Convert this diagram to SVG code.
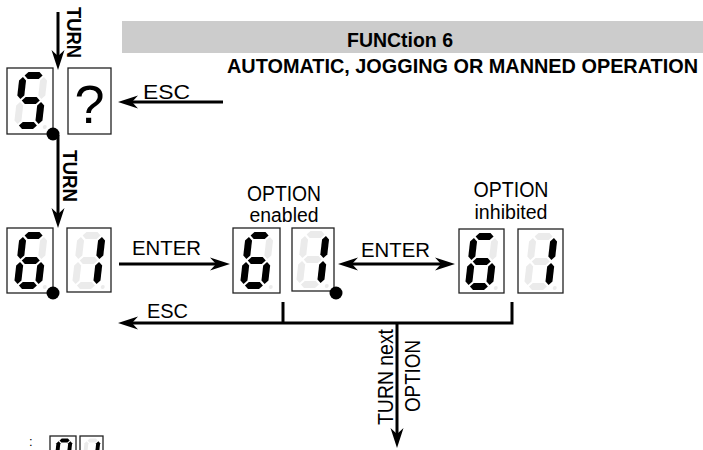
<svg xmlns="http://www.w3.org/2000/svg" xmlns:xlink="http://www.w3.org/1999/xlink" width="703" height="450" viewBox="0 0 703 450">
<style>
.box{fill:#fff;stroke:#222;stroke-width:1.3}
.on{fill:#000}
.off{fill:#ebebeb}
.t{font-family:"Liberation Sans",Arial,sans-serif;fill:#000}
.b{font-weight:bold}
.con{fill:none;stroke:#000;stroke-width:3}
.arr{marker-end:url(#ah)}
</style>
<defs>
<marker id="ah" viewBox="-11 -7 22 14" refX="0" refY="0" markerWidth="22" markerHeight="14" markerUnits="userSpaceOnUse" orient="auto-start-reverse">
<path d="M10,0 L-10,-6.5 L-4,0 L-10,6.5 Z" fill="#000"/>
</marker>
<polygon id="sa" points="5,3.5 8.5,0 19.5,0 23,3.5 19.5,7 8.5,7"/>
<polygon id="sg" points="5,28.5 8.5,25 19.5,25 23,28.5 19.5,32 8.5,32"/>
<polygon id="sd" points="5,53.5 8.5,50 19.5,50 23,53.5 19.5,57 8.5,57"/>
<polygon id="sf" points="3.5,5 7,8.5 7,23.5 3.5,27 0,23.5 0,8.5"/>
<polygon id="sb" points="24.5,5 28,8.5 28,23.5 24.5,27 21,23.5 21,8.5"/>
<polygon id="se" points="3.5,30 7,33.5 7,48.5 3.5,52 0,48.5 0,33.5"/>
<polygon id="sc" points="24.5,30 28,33.5 28,48.5 24.5,52 21,48.5 21,33.5"/>
<circle id="sp" cx="31" cy="55" r="2"/>
<g id="dig5">
<use xlink:href="#sa" class="on"/><use xlink:href="#sf" class="on"/><use xlink:href="#sg" class="on"/><use xlink:href="#sc" class="on"/><use xlink:href="#sd" class="on"/>
<use xlink:href="#sb" class="off"/><use xlink:href="#se" class="off"/><use xlink:href="#sp" class="off"/>
</g>
<g id="dig6">
<use xlink:href="#sa" class="on"/><use xlink:href="#sf" class="on"/><use xlink:href="#sg" class="on"/><use xlink:href="#se" class="on"/><use xlink:href="#sc" class="on"/><use xlink:href="#sd" class="on"/>
<use xlink:href="#sb" class="off"/><use xlink:href="#sp" class="off"/>
</g>
<g id="dig1">
<use xlink:href="#sb" class="on"/><use xlink:href="#sc" class="on"/>
<use xlink:href="#sa" class="off"/><use xlink:href="#sf" class="off"/><use xlink:href="#sg" class="off"/><use xlink:href="#se" class="off"/><use xlink:href="#sd" class="off"/><use xlink:href="#sp" class="off"/>
</g>
<g id="dig0">
<use xlink:href="#sa" class="on"/><use xlink:href="#sf" class="on"/><use xlink:href="#sb" class="on"/><use xlink:href="#se" class="on"/><use xlink:href="#sc" class="on"/><use xlink:href="#sd" class="on"/>
<use xlink:href="#sg" class="off"/><use xlink:href="#sp" class="off"/>
</g>
</defs>

<g id="title">
<rect x="122" y="21" width="581" height="32" fill="#cccccc"/>
<text class="t b" x="400" y="47" font-size="21" text-anchor="middle" textLength="106" lengthAdjust="spacingAndGlyphs">FUNCtion 6</text>
<text class="t b" x="227" y="73" font-size="20" textLength="471" lengthAdjust="spacingAndGlyphs">AUTOMATIC,  JOGGING OR MANNED OPERATION</text>
</g>

<g id="connectors">
<path class="con arr" d="M58,12 V60"/>
<path class="con arr" d="M223,102 H128"/>
<path class="con arr" d="M58,135 V218"/>
<path class="con arr" d="M119,264 H220"/>
<path class="con arr" d="M348,264 H445" marker-start="url(#ah)"/>
<path class="con" d="M283,302 V323"/>
<path class="con arr" d="M512,302 V323 H128"/>
<path class="con arr" d="M397,323 V438"/>
</g>

<g id="labels">
<text class="t b" font-size="21" transform="translate(67,7) rotate(90)" textLength="51" lengthAdjust="spacingAndGlyphs">TURN</text>
<text class="t" x="143" y="99" font-size="20" textLength="47" lengthAdjust="spacingAndGlyphs">ESC</text>
<text class="t b" font-size="21" transform="translate(63,150) rotate(90)" textLength="52" lengthAdjust="spacingAndGlyphs">TURN</text>
<text class="t" x="132" y="255" font-size="21" textLength="69" lengthAdjust="spacingAndGlyphs">ENTER</text>
<text class="t" x="361" y="257" font-size="21" textLength="69" lengthAdjust="spacingAndGlyphs">ENTER</text>
<text class="t" x="147" y="318" font-size="20" textLength="41" lengthAdjust="spacingAndGlyphs">ESC</text>
<text class="t" font-size="22" transform="translate(393,377) rotate(-90)" text-anchor="middle" textLength="96" lengthAdjust="spacingAndGlyphs">TURN next</text>
<text class="t" font-size="22" transform="translate(420,376) rotate(-90)" text-anchor="middle" textLength="72" lengthAdjust="spacingAndGlyphs">OPTION</text>
</g>

<g id="node-s5">
<rect class="box" x="7" y="68" width="46" height="66"/>
<g transform="translate(20,72) skewX(-6.5)"><use xlink:href="#dig5"/></g>
<circle cx="53" cy="134" r="6.5" fill="#000"/>
</g>

<g id="node-q">
<rect class="box" x="68" y="68" width="43" height="66"/>
<text class="t" x="89.5" y="123" font-size="54" text-anchor="middle">?</text>
</g>

<g id="node-l61">
<rect class="box" x="7" y="228" width="46" height="65"/>
<g transform="translate(20,232) skewX(-6.5)"><use xlink:href="#dig6"/></g>
<rect class="box" x="67" y="228" width="44" height="64"/>
<g transform="translate(78,232) skewX(-6.5)"><use xlink:href="#dig1"/></g>
<circle cx="53" cy="293" r="6.5" fill="#000"/>
</g>

<g id="node-enabled">
<text class="t" x="284" y="201" font-size="22" text-anchor="middle" textLength="74" lengthAdjust="spacingAndGlyphs">OPTION</text>
<text class="t" x="284" y="222" font-size="20" text-anchor="middle" textLength="69" lengthAdjust="spacingAndGlyphs">enabled</text>
<rect class="box" x="233" y="228" width="47" height="65"/>
<g transform="translate(246,232) skewX(-6.5)"><use xlink:href="#dig6"/></g>
<rect class="box" x="292" y="228" width="42" height="63"/>
<g transform="translate(302,231) skewX(-6.5)"><use xlink:href="#dig1"/></g>
<circle cx="336" cy="293" r="6.5" fill="#000"/>
</g>

<g id="node-inhibited">
<text class="t" x="511" y="197" font-size="22" text-anchor="middle" textLength="75" lengthAdjust="spacingAndGlyphs">OPTION</text>
<text class="t" x="511" y="219" font-size="20" text-anchor="middle" textLength="73" lengthAdjust="spacingAndGlyphs">inhibited</text>
<rect class="box" x="459" y="229" width="45" height="64"/>
<g transform="translate(471,233) skewX(-6.5)"><use xlink:href="#dig6"/></g>
<rect class="box" x="518" y="229" width="45" height="64"/>
<g transform="translate(530,233) skewX(-6.5)"><use xlink:href="#dig1"/></g>
</g>

<g id="node-legend">
<text class="t" x="29" y="446" font-size="13">:</text>
<rect class="box" x="50" y="436" width="26" height="36"/>
<g transform="translate(57,438.5) scale(0.56) skewX(-6.5)"><use xlink:href="#dig0"/></g>
<rect class="box" x="80" y="436" width="23" height="36"/>
<g transform="translate(85,438.5) scale(0.56) skewX(-6.5)"><use xlink:href="#dig1"/></g>
</g>
</svg>
